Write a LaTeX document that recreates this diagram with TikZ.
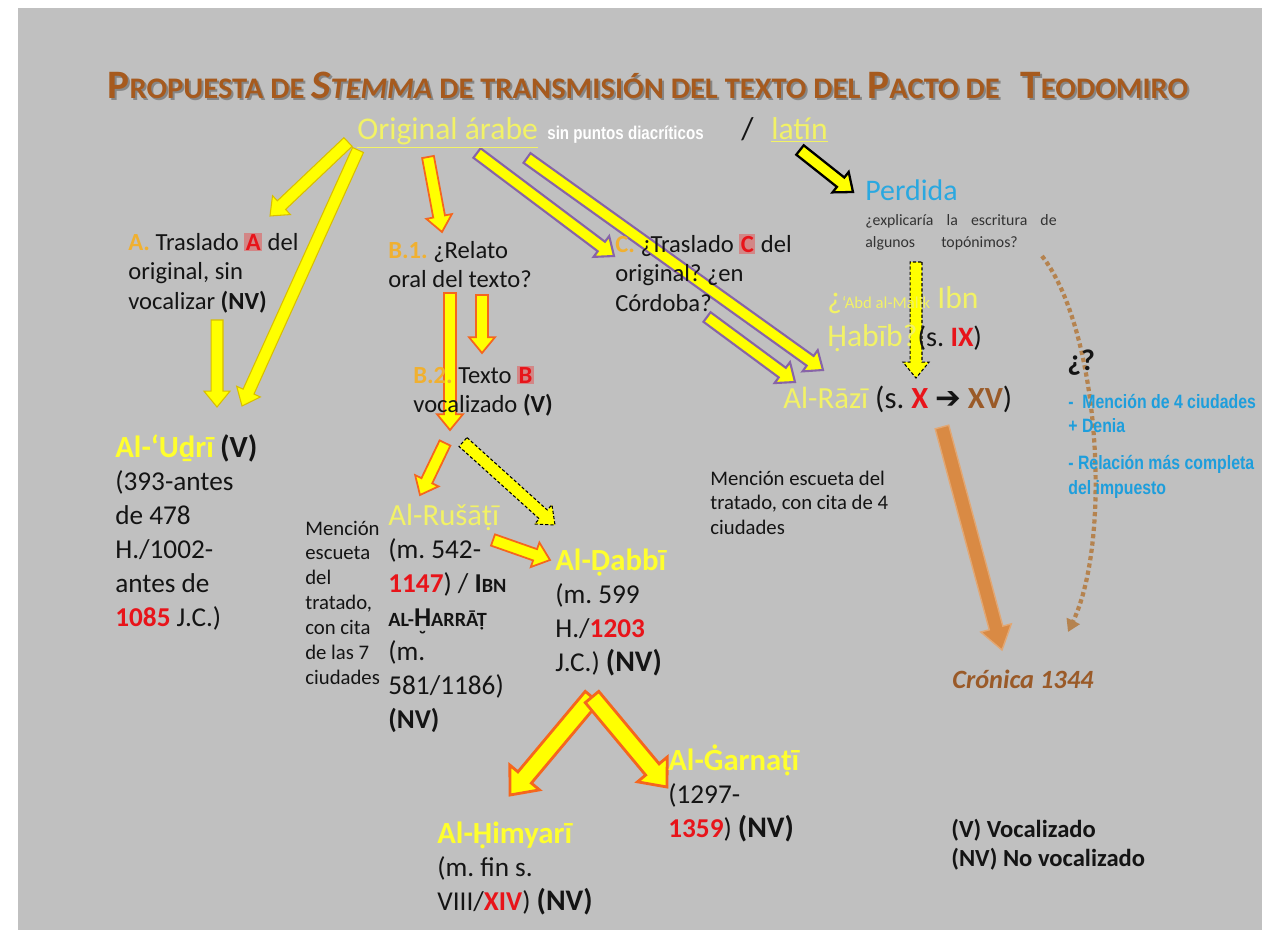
\documentclass[tikz,border=0pt]{standalone}
\usepackage{fontspec}
\setmainfont{Carlito}
\newfontfamily\narrowfont[FakeStretch=0.82]{Liberation Sans}
\newfontfamily\symbfont{DejaVu Sans}
\usetikzlibrary{calc,arrows.meta}
\frenchspacing

\definecolor{bggray}{HTML}{C0C0C0}
\definecolor{nameyel}{HTML}{FFFF2E}
\definecolor{lightyel}{HTML}{F2F266}
\definecolor{stagegold}{HTML}{F0B030}
\definecolor{numred}{HTML}{E8141A}
\definecolor{titlebrown}{HTML}{A65A1E}
\definecolor{lostblue}{HTML}{2AA8E0}
\definecolor{listblue}{HTML}{1E9EDC}
\definecolor{cronbrown}{HTML}{9A5A28}
\definecolor{arrbrown}{HTML}{D98A44}
\definecolor{dotbrown}{HTML}{B5834F}
\definecolor{arryel}{HTML}{FFFF00}
\definecolor{arrgold}{HTML}{D9BE00}
\definecolor{arrorange}{HTML}{F5661E}
\definecolor{arrpurple}{HTML}{8764A8}
\definecolor{textblack}{HTML}{141414}

\newcommand\rednum[1]{\textcolor{numred}{\bfseries #1}}
\newcommand\stg[1]{\textcolor{stagegold}{\bfseries #1}}
\newcommand\glowlet[1]{{\fboxsep=0.8pt\colorbox{red!30!bggray}{\rednum{#1}}}}
\newcommand\lowcap[1]{{\fontsize{11.5pt}{19.3pt}\selectfont #1}}
\newcommand\hbrevebelow{\ooalign{H\cr\hidewidth\raisebox{-0.66em}[0pt][0pt]{\fontsize{11pt}{11pt}\selectfont ˘}\hidewidth\cr}}
\newcommand\namebold[1]{{\fontsize{17.5pt}{19.3pt}\selectfont\bfseries\textcolor{nameyel}{#1}}}
\newcommand\tcap[2]{{\fontsize{23pt}{23pt}\selectfont #1}#2}
\newcommand\lines[1]{\begin{tabular}[t]{@{}l@{}}#1\end{tabular}}
\newcommand\titletext{\resizebox{615pt}{\height}{\tcap{P}{ROPUESTA} DE \textit{\tcap{S}{TEMMA}} DE TRANSMISIÓN DEL TEXTO DEL \tcap{P}{ACTO} DE\ \ \ \tcap{T}{EODOMIRO}}}

% block arrow from #2 to #3
\newcommand\blockarr[3][]{%
  \path[blkdim,#1] ($(#3)!\blklen!(#2)$) coordinate (bk);
  \filldraw[blkdim,#1] ($(#2)!\blkshaft!90:(#3)$) -- ($(bk)!\blkshaft!90:(#3)$)
    -- ($(bk)!\blkhead!90:(#3)$) -- (#3) -- ($(bk)!\blkhead!-90:(#3)$)
    -- ($(bk)!\blkshaft!-90:(#3)$) -- ($(#2)!\blkshaft!-90:(#3)$) -- cycle;}

\tikzset{
  blkshaft/.store in=\blkshaft, blkhead/.store in=\blkhead, blklen/.store in=\blklen,
  blkdim/.style={blkshaft=3.4pt, blkhead=7.4pt, blklen=9pt},
  yarrow/.style={fill=arryel, draw=arrgold, line width=0.6pt},
  oarrow/.style={fill=arryel, draw=arrorange, line width=1pt},
  parrow/.style={fill=arryel, draw=arrpurple, line width=1.2pt},
  karrow/.style={fill=arryel, draw=black, line width=1.3pt},
  darrow/.style={fill=arryel, draw=black, line width=0.6pt, dash pattern=on 1.8pt off 1.2pt},
  bigarrow/.style={oarrow, line width=1.6pt, blkshaft=5pt, blkhead=11pt, blklen=13pt},
  brarrow/.style={fill=arrbrown, draw=arrbrown!75!white, line width=0.8pt, blkshaft=4pt, blkhead=9pt, blklen=13pt},
  txt/.style={inner sep=0pt, anchor=base west, text=textblack},
  body/.style={txt, font=\fontsize{15.5pt}{19.3pt}\selectfont},
  stage/.style={txt, font=\fontsize{14pt}{17pt}\selectfont},
  note/.style={txt, font=\fontsize{11.8pt}{14.2pt}\selectfont},
}

\begin{document}
\begin{tikzpicture}[x=0.02cm, y=-0.02cm]
  \useasboundingbox (0,0) rectangle (1269,937);
  \fill[white] (0,0) rectangle (1269,937);
  \fill[bggray] (18,8) rectangle (1262,930);

  % arrow ends
  \coordinate (oA) at (348,142);   \coordinate (tA) at (270,216);
  \coordinate (oU) at (358,150);   \coordinate (tU) at (242,406);
  \coordinate (oA2) at (217,320);  \coordinate (tA2) at (217,407);
  \coordinate (oB) at (428,157);   \coordinate (tB) at (442,232);
  \coordinate (oB2) at (450,293);  \coordinate (tB2) at (450,430);
  \coordinate (oB3) at (482,295);  \coordinate (tB3) at (482,353);
  \coordinate (oC) at (477,153);   \coordinate (tC) at (614,256);
  \coordinate (oR) at (527,158);   \coordinate (tR) at (823,370);
  \coordinate (oC2) at (707,317);  \coordinate (tC2) at (795,382);
  \coordinate (oP) at (800,150);   \coordinate (tP) at (853,192);
  \coordinate (oP2) at (916,262);  \coordinate (tP2) at (916,378);
  \coordinate (oD) at (463,442);   \coordinate (tD) at (555,525);
  \coordinate (oRu) at (445,443);  \coordinate (tRu) at (420,495);
  \coordinate (oRD) at (493,540);  \coordinate (tRD) at (550,560);
  \coordinate (apex) at (592,697); \coordinate (tH) at (510,795);
  \coordinate (tG) at (667,787);
  \coordinate (oCr) at (942,427);  \coordinate (tCr) at (1002,650);
  \coordinate (oQ) at (1042,256);  \coordinate (tQ) at (1068,632);

  \blockarr[yarrow]{oA}{tA}
  \blockarr[yarrow]{oU}{tU}
  \blockarr[yarrow]{oA2}{tA2}
  \blockarr[oarrow]{oB}{tB}
  \blockarr[oarrow]{oB2}{tB2}
  \blockarr[oarrow]{oB3}{tB3}
  \blockarr[parrow]{oC}{tC}
  \blockarr[parrow]{oR}{tR}
  \blockarr[parrow]{oC2}{tC2}
  \blockarr[karrow]{oP}{tP}
  \blockarr[darrow]{oP2}{tP2}
  \blockarr[darrow]{oD}{tD}
  \blockarr[oarrow]{oRu}{tRu}
  \blockarr[oarrow]{oRD}{tRD}
  \blockarr[bigarrow]{apex}{tH}
  \blockarr[bigarrow]{apex}{tG}
  \blockarr[brarrow]{oCr}{tCr}
  \draw[dotbrown, line width=2.4pt, dash pattern=on 2.4pt off 1.8pt, -{Triangle[length=7pt,width=8pt]}]
    (oQ) .. controls (1100,330) and (1112,540) .. (tQ);

  % title
  \node[inner sep=0pt, anchor=base, text=black, opacity=0.3, font=\bfseries\fontsize{17pt}{17pt}\selectfont] (titleshade) at (650,100) {\titletext};
  \node[inner sep=0pt, anchor=base, text=titlebrown, font=\bfseries\fontsize{17pt}{17pt}\selectfont] (title) at (648,98) {\titletext};

  \node[txt, text=lightyel, font=\fontsize{18pt}{20pt}\selectfont] (orig) at (357,139) {\underline{Original árabe}};
  \node[txt, text=white, font=\narrowfont\bfseries\fontsize{10.5pt}{12pt}\selectfont] (sinp) at (547,139) {sin puntos diacríticos};
  \node[txt, font=\fontsize{18pt}{20pt}\selectfont] (slash) at (741,139) {/};
  \node[txt, text=lightyel, font=\fontsize{18pt}{20pt}\selectfont] (latin) at (771,139) {\underline{latín}};

  \node[stage] (trA) at (128,250) {\lines{\stg{A.} Traslado \glowlet{A} del\\original, sin\\vocalizar {\bfseries (NV)}}};
  \node[stage] (oral) at (388,258) {\lines{\stg{B.1.} ¿Relato\\oral del texto?}};
  \node[stage] (textB) at (413,383) {\lines{\stg{B.2.} Texto \glowlet{B}\\vocalizado {\bfseries (V)}}};
  \node[stage] (trC) at (615,252) {\lines{\stg{C.} ¿Traslado \glowlet{C} del\\original? ¿en\\Córdoba?}};

  \node[txt, text=lostblue, font=\fontsize{17pt}{20pt}\selectfont] (lost) at (865,200) {Perdida};
  \node[txt, text=black!80, font=\fontsize{9pt}{13pt}\selectfont] (lostnote) at (865,225)
    {\lines{\makebox[108.9pt][s]{¿explicaría la escritura de}\\\makebox[86.8pt][s]{algunos topónimos?}}};
  \node[txt, text=lightyel, font=\fontsize{18pt}{22pt}\selectfont] (abd) at (827,308)
    {\lines{¿{\fontsize{9.5pt}{11pt}\selectfont ‘Abd al-Malik} Ibn\\Ḥabīb?{\color{textblack}\fontsize{16pt}{18pt}\selectfont (s. \rednum{IX})}}};
  \node[txt, font=\fontsize{17.5pt}{20pt}\selectfont] (razi) at (783,408)
    {\textcolor{lightyel}{Al-Rāzī} (s. \rednum{X} {\symbfont ➔} \textcolor{cronbrown}{\bfseries XV})};

  \node[txt, font=\bfseries\fontsize{17pt}{20pt}\selectfont] (query) at (1067,370) {¿?};
  \node[txt, text=listblue, font=\narrowfont\bfseries\fontsize{11pt}{14.2pt}\selectfont] (traits) at (1068,408)
    {\lines{-\ \ Mención de 4 ciudades\\+ Denia\\[6.8pt]- Relación más completa\\del impuesto}};

  \node[body] (udri) at (115,457) {\lines{\namebold{Al-‘Uḏrī} {\fontsize{17.5pt}{19.3pt}\selectfont\bfseries (V)}\\(393-antes\\de 478\\H./1002-\\antes de\\\rednum{1085} J.C.)}};
  \node[note] (menc7) at (305,535) {\lines{Mención\\escueta\\del\\tratado,\\con cita\\de las 7\\ciudades}};
  \node[body] (rusati) at (388,525) {\lines{{\fontsize{17.5pt}{19.3pt}\selectfont\textcolor{lightyel}{Al-Rušāṭī}}\\(m. 542-\\\rednum{1147}) / {\bfseries I\lowcap{BN}}\\{\bfseries\lowcap{AL-}\hbrevebelow\lowcap{ARRĀṬ}}\\(m.\\581/1186)\\{\bfseries (NV)}}};
  \node[body] (dabbi) at (555,570) {\lines{\namebold{Al-Ḍabbī}\\(m. 599\\H./\rednum{1203}\\J.C.) {\fontsize{17pt}{19.3pt}\selectfont\bfseries (NV)}}};
  \node[note] (menc4) at (710,485) {\lines{Mención escueta del\\tratado, con cita de 4\\ciudades}};
  \node[body] (garnati) at (668,770) {\lines{\namebold{Al-Ġarnaṭī}\\(1297-\\\rednum{1359}) {\fontsize{17pt}{19.3pt}\selectfont\bfseries (NV)}}};
  \node[body] (himyari) at (437,843) {\lines{\namebold{Al-Ḥimyarī}\\(m. fin s.\\VIII/\rednum{XIV}) {\fontsize{17pt}{19.3pt}\selectfont\bfseries (NV)}}};

  \node[txt, text=cronbrown, font=\bfseries\itshape\fontsize{15pt}{18pt}\selectfont] (cronica) at (952,688) {Crónica 1344};
  \node[txt, font=\bfseries\fontsize{14pt}{17pt}\selectfont] (legend) at (951,837) {\lines{(V) Vocalizado\\(NV) No vocalizado}};
\end{tikzpicture}
\end{document}
